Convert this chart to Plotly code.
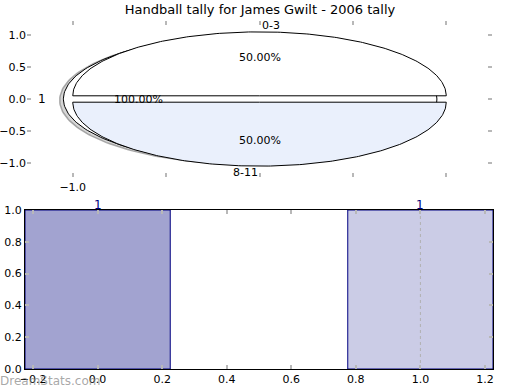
import numpy as np
import plotly.graph_objects as go

# ---- data ----
title = "Handball tally for James Gwilt - 2006 tally"
pie_labels = ["0-3", "8-11"]
pie_values = [50, 50]
pie_colors = ["#FFFFFF", "#EAF0FC"]
outer_labels = ["1"]
outer_values = [1]

bar_x = [0, 1]
bar_y = [1, 1]
bar_text = ["1", "1"]
bar_colors = ["#A2A3D0", "#CBCCE6"]

pie_yticks = [-1.0, -0.5, 0.0, 0.5, 1.0]
pie_yticktext = ["\u22121.0", "\u22120.5", "0.0", "0.5", "1.0"]
pie_xticks = [-1.0, -0.5, 0.0, 0.5, 1.0]
pie_xticktext = ["\u22121.0", "", "", "", ""]
bar_xticks = [-0.2, 0.0, 0.2, 0.4, 0.6, 0.8, 1.0, 1.2]
bar_xticktext = ["\u22120.2", "0.0", "0.2", "0.4", "0.6", "0.8", "1.0", "1.2"]
bar_yticks = [0.0, 0.2, 0.4, 0.6, 0.8, 1.0]
bar_yticktext = ["0.0", "0.2", "0.4", "0.6", "0.8", "1.0"]

EXPLODE = 0.05
FONT = "DejaVu Sans"

W, H = 520, 390
fig = go.Figure()


def wedge(cx, cy, a0, a1):
    t = np.linspace(a0, a1, 240)
    xs = list(cx + np.cos(t))
    ys = list(cy + np.sin(t))
    if (a1 - a0) < 2 * np.pi - 1e-9:
        xs = [cx] + xs + [cx]
        ys = [cy] + ys + [cy]
    return xs, ys


annotations = []

# outer (100%) pie, drawn behind
tot = sum(outer_values)
start = 0.0
for lab, v in zip(outer_labels, outer_values):
    frac = v / tot
    a0, a1 = start, start + frac * 2 * np.pi
    mid = (a0 + a1) / 2
    cx, cy = EXPLODE * np.cos(mid), EXPLODE * np.sin(mid)
    sx, sy = wedge(cx - 0.02, cy - 0.02, a0, a1)
    fig.add_trace(go.Scatter(x=sx, y=sy, fill="toself", mode="lines",
                             line=dict(color="rgba(110,110,110,0.55)", width=1.5),
                             fillcolor="rgba(120,120,120,0.3)", hoverinfo="skip",
                             showlegend=False, xaxis="x", yaxis="y"))
    wx, wy = wedge(cx, cy, a0, a1)
    fig.add_trace(go.Scatter(x=wx, y=wy, fill="toself", mode="lines",
                             line=dict(color="black", width=1),
                             fillcolor="white", hoverinfo="skip",
                             showlegend=False, xaxis="x", yaxis="y"))
    c = np.cos(mid)
    annotations.append(dict(x=1.1 * c + cx, y=1.1 * np.sin(mid) + cy, xref="x", yref="y",
                            text=lab, showarrow=False, xshift=3 if c < 0 else -3,
                            xanchor="right" if c < 0 else "left", yanchor="middle",
                            font=dict(size=12, color="black", family=FONT)))
    annotations.append(dict(x=0.6 * c + cx, y=0.6 * np.sin(mid) + cy, xref="x", yref="y",
                            text=f"{frac*100:.2f}%", showarrow=False, xanchor="center", yanchor="middle",
                            font=dict(size=11, color="black", family=FONT)))
    start = a1

# main pie
tot = sum(pie_values)
start = 0.0
for lab, v, col in zip(pie_labels, pie_values, pie_colors):
    frac = v / tot
    a0, a1 = start, start + frac * 2 * np.pi
    mid = (a0 + a1) / 2
    cx, cy = EXPLODE * np.cos(mid), EXPLODE * np.sin(mid)
    wx, wy = wedge(cx, cy, a0, a1)
    fig.add_trace(go.Scatter(x=wx, y=wy, fill="toself", mode="lines",
                             line=dict(color="black", width=1),
                             fillcolor=col, hoverinfo="skip",
                             showlegend=False, xaxis="x", yaxis="y"))
    c = np.cos(mid)
    annotations.append(dict(x=1.1 * c + cx, y=1.1 * np.sin(mid) + cy, xref="x", yref="y",
                            text=lab, showarrow=False,
                            xanchor="left" if c >= 0 else "right", yanchor="middle",
                            font=dict(size=11, color="black", family=FONT)))
    annotations.append(dict(x=0.6 * c + cx, y=0.6 * np.sin(mid) + cy, xref="x", yref="y",
                            text=f"{frac*100:.2f}%", showarrow=False, xanchor="center", yanchor="middle",
                            font=dict(size=11, color="black", family=FONT)))
    start = a1

# bar chart
fig.add_trace(go.Bar(x=bar_x, y=bar_y, width=0.45, marker=dict(color=bar_colors,
                     line=dict(color="#000080", width=1)),
                     hoverinfo="skip", showlegend=False, xaxis="x2", yaxis="y2"))
fig.add_trace(go.Scatter(x=[bar_x[1], bar_x[1]], y=[0, max(bar_y)], mode="lines",
                         line=dict(color="#b0b0b0", width=1, dash="dot"),
                         hoverinfo="skip", showlegend=False, xaxis="x2", yaxis="y2"))
for bx, by, bt in zip(bar_x, bar_y, bar_text):
    annotations.append(dict(x=bx, y=by, xref="x2", yref="y2", text=bt, showarrow=False,
                            xanchor="center", yanchor="middle", yshift=5,
                            font=dict(size=12, color="#000080", family=FONT)))

annotations.append(dict(x=0, y=1 - 381 / H, xref="paper", yref="paper", text="DreamStats.com",
                        showarrow=False, xanchor="left", yanchor="middle", xshift=-2,
                        font=dict(size=12, color="rgba(130,130,130,0.7)", family=FONT)))

tick_common = dict(ticks="inside", ticklen=4, tickwidth=2, tickcolor="#b8b8b8",
                   showgrid=False, zeroline=False, automargin=False,
                   tickfont=dict(size=11, color="black", family=FONT))

fig.update_layout(
    width=W, height=H,
    margin=dict(l=0, r=0, t=0, b=0, autoexpand=False),
    paper_bgcolor="white", plot_bgcolor="white",
    font=dict(family=FONT, size=11, color="black"),
    title=dict(text=title, x=0.5, xanchor="center", y=1 - 9 / H, yanchor="middle",
               font=dict(size=13, color="black", family=FONT)),
    xaxis=dict(domain=[27 / W, 492 / W], range=[-1.245, 1.245], anchor="y",
               tickvals=pie_xticks, ticktext=pie_xticktext, showline=False, mirror="ticks",
               ticklabelstandoff=2, **tick_common),
    yaxis=dict(domain=[1 - 177 / H, 1 - 21 / H], range=[-1.22, 1.22], anchor="x",
               tickvals=pie_yticks, ticktext=pie_yticktext, showline=False, mirror="ticks",
               **tick_common),
    xaxis2=dict(domain=[25 / W, 493 / W], range=[-0.225, 1.225], anchor="y2",
                tickvals=bar_xticks, ticktext=bar_xticktext, showline=True, linecolor="black",
                linewidth=1, mirror="ticks", **tick_common),
    yaxis2=dict(domain=[1 - 369 / H, 1 - 210 / H], range=[0, 1], anchor="x2",
                tickvals=bar_yticks, ticktext=bar_yticktext, showline=True, linecolor="black",
                linewidth=1, mirror="ticks", **tick_common),
    annotations=annotations,
)

fig.write_html("out.html", config={"displayModeBar": False},
               post_script="document.body.style.margin='0px';document.body.style.overflow='hidden';")
